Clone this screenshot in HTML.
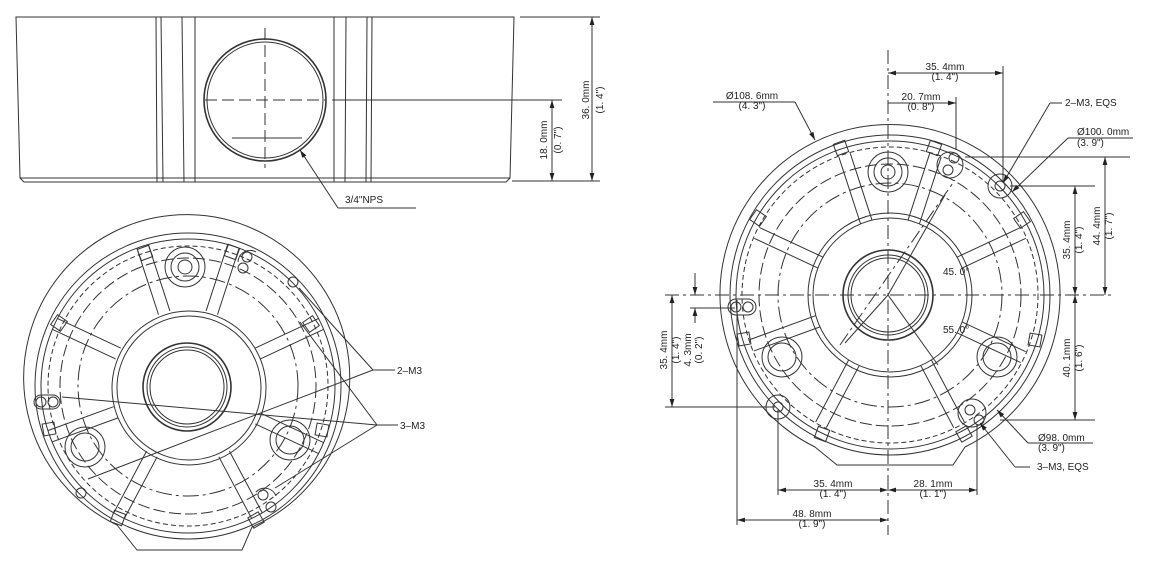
<!DOCTYPE html>
<html><head><meta charset="utf-8"><style>
html,body{margin:0;padding:0;background:#fff;}
svg{display:block}
text{font-family:"Liberation Sans",sans-serif;font-size:10px;fill:#222}
</style></head><body>
<svg width="1162" height="566" viewBox="0 0 1162 566" xmlns="http://www.w3.org/2000/svg">
<defs>
<marker id="a" viewBox="0 0 10 6" refX="10" refY="3" markerWidth="8" markerHeight="5" orient="auto-start-reverse"><path d="M0,0L10,3L0,6z" fill="#222"/></marker>
</defs>
<g fill="none" stroke="#333" stroke-width="1">
<!-- TOP VIEW -->
<path d="M16,17 L514,17 L510,178 L506,182 L24,182 L20,178 Z"/>
<line x1="20" y1="178" x2="510" y2="178"/>
<line x1="156" y1="17" x2="157" y2="182"/><line x1="161" y1="17" x2="163" y2="182"/>
<line x1="182" y1="17" x2="184" y2="182"/><line x1="195" y1="17" x2="195" y2="182"/>
<line x1="334" y1="17" x2="334" y2="182"/><line x1="346" y1="17" x2="345" y2="182"/>
<line x1="367" y1="17" x2="366" y2="182"/><line x1="372" y1="17" x2="371" y2="182"/>
<ellipse cx="265" cy="100" rx="61" ry="61" stroke-width="1.6"/>
<ellipse cx="265" cy="100" rx="58" ry="58"/>
<line x1="232" y1="138" x2="302" y2="138"/>
<line x1="265" y1="28" x2="265" y2="168" stroke-dasharray="12,5"/>
<line x1="205" y1="100" x2="325" y2="100" stroke-dasharray="12,5"/>
<line x1="332" y1="100" x2="562" y2="100"/>
<line x1="520" y1="17" x2="600" y2="17"/>
<line x1="512" y1="181" x2="600" y2="181"/>
<line x1="552" y1="100" x2="552" y2="181" marker-start="url(#a)" marker-end="url(#a)"/>
<line x1="592" y1="17" x2="592" y2="181" marker-start="url(#a)" marker-end="url(#a)"/>
<line x1="338" y1="208" x2="300" y2="150" marker-end="url(#a)"/>
<line x1="338" y1="208" x2="416" y2="208"/>

<!-- BOTTOM-LEFT VIEW -->
<path d="M117,525 A163,163 0 1 1 252,527 L242,550 L137,550 Z"/>
<circle cx="188" cy="386" r="153"/>
<circle cx="188" cy="386" r="147"/>
<circle cx="188" cy="386" r="140" stroke-dasharray="5,3"/>
<circle cx="188" cy="386" r="128" stroke-dasharray="12,4"/>
<circle cx="188" cy="386" r="110" stroke-dasharray="16,4,3,4"/>
<circle cx="189" cy="388" r="77"/>
<circle cx="189" cy="388" r="72"/>
<circle cx="187" cy="387" r="44" stroke-width="1.6"/>
<circle cx="187" cy="387" r="40"/>
<circle cx="187" cy="387" r="37"/>
<g id="spokesL">
<g transform="rotate(-108 188 386)"><line x1="265" y1="380" x2="335" y2="380"/><line x1="265" y1="392" x2="335" y2="392"/></g>
<g transform="rotate(-72 188 386)"><line x1="265" y1="380" x2="335" y2="380"/><line x1="265" y1="392" x2="335" y2="392"/></g>
<g transform="rotate(-25 188 386)"><line x1="265" y1="380" x2="335" y2="380"/><line x1="265" y1="392" x2="335" y2="392"/></g>
<g transform="rotate(25 188 386)"><line x1="265" y1="380" x2="335" y2="380"/><line x1="265" y1="392" x2="335" y2="392"/></g>
<g transform="rotate(62 188 386)"><line x1="265" y1="380" x2="335" y2="380"/><line x1="265" y1="392" x2="335" y2="392"/></g>
<g transform="rotate(118 188 386)"><line x1="265" y1="380" x2="335" y2="380"/><line x1="265" y1="392" x2="335" y2="392"/></g>
<g transform="rotate(160 188 386)"><line x1="265" y1="380" x2="335" y2="380"/><line x1="265" y1="392" x2="335" y2="392"/></g>
<g transform="rotate(-155 188 386)"><line x1="265" y1="380" x2="335" y2="380"/><line x1="265" y1="392" x2="335" y2="392"/></g>
</g>
<g>
<rect x="139" y="247" width="12" height="12" transform="rotate(-20 145 253)"/>
<rect x="226" y="246" width="12" height="12" transform="rotate(20 232 252)"/>
<rect x="53" y="317" width="12" height="12" transform="rotate(-55 59 323)"/>
<rect x="305" y="318" width="12" height="12" transform="rotate(55 311 324)"/>
<rect x="43" y="423" width="12" height="12" transform="rotate(-100 49 429)"/>
<rect x="316" y="424" width="12" height="12" transform="rotate(100 322 430)"/>
<rect x="112" y="512" width="12" height="12" transform="rotate(20 118 518)"/>
<rect x="250" y="514" width="12" height="12" transform="rotate(-30 256 520)"/>
</g>
<circle cx="185" cy="267" r="20"/><circle cx="185" cy="267" r="14"/><circle cx="185" cy="267" r="7"/>
<circle cx="85" cy="447" r="20"/><circle cx="85" cy="447" r="14"/>
<circle cx="290" cy="440" r="20"/><circle cx="290" cy="440" r="14"/>
<circle cx="247" cy="257" r="5"/><circle cx="243" cy="268" r="5"/><path d="M238,262 a12,12 0 0 1 18,-10"/>
<circle cx="41" cy="402" r="5"/><circle cx="53" cy="402" r="5"/><rect x="34" y="395" width="26" height="14" rx="7"/>
<circle cx="263" cy="495" r="5"/><circle cx="271" cy="507" r="5"/><path d="M256,492 a12,12 0 0 1 20,4"/>
<circle cx="293" cy="282" r="5"/><circle cx="81" cy="493" r="5"/>
<line x1="373" y1="370" x2="395" y2="370"/>
<line x1="373" y1="370" x2="299" y2="288"/>
<line x1="373" y1="370" x2="88" y2="479"/>
<line x1="377" y1="425" x2="398" y2="425"/>
<line x1="377" y1="425" x2="62" y2="397"/>
<line x1="377" y1="425" x2="300" y2="322"/>
<line x1="377" y1="425" x2="275" y2="488"/>

<!-- RIGHT VIEW -->
<path d="M815,447 A170,170 0 1 1 965,447 L953,465 L837,465 Z"/>
<circle cx="890" cy="295" r="160"/>
<circle cx="890" cy="295" r="154"/>
<circle cx="890" cy="295" r="148" stroke-dasharray="5,3"/>
<circle cx="890" cy="295" r="131" stroke-dasharray="12,4"/>
<circle cx="890" cy="295" r="112" stroke-dasharray="16,4,3,4"/>
<circle cx="890" cy="295" r="82"/>
<circle cx="890" cy="295" r="77"/>
<circle cx="888" cy="295" r="45" stroke-width="1.6"/>
<circle cx="888" cy="295" r="40"/>
<circle cx="888" cy="295" r="37"/>
<g transform="translate(702 -91)">
<use href="#spokesL"/>
</g>
<rect x="835" y="142" width="12" height="12" transform="rotate(-20 841 148)"/>
<rect x="928" y="142" width="12" height="12" transform="rotate(20 934 148)"/>
<rect x="752" y="212" width="12" height="12" transform="rotate(-55 758 218)"/>
<rect x="1016" y="214" width="12" height="12" transform="rotate(55 1022 220)"/>
<rect x="738" y="333" width="12" height="12" transform="rotate(-100 744 339)"/>
<rect x="1029" y="334" width="12" height="12" transform="rotate(100 1035 340)"/>
<rect x="816" y="428" width="12" height="12" transform="rotate(20 822 434)"/>
<rect x="958" y="428" width="12" height="12" transform="rotate(-30 964 434)"/>
<circle cx="888" cy="172" r="20"/><circle cx="888" cy="172" r="14"/><circle cx="888" cy="172" r="7"/>
<circle cx="782" cy="357" r="20"/><circle cx="782" cy="357" r="14"/>
<circle cx="997" cy="357" r="20"/><circle cx="997" cy="357" r="14"/>
<circle cx="954" cy="158" r="5"/><circle cx="948" cy="170" r="5"/><circle cx="950" cy="165" r="13"/>
<circle cx="1000" cy="186" r="5"/><circle cx="1000" cy="186" r="12"/>
<circle cx="736" cy="307" r="5"/><circle cx="748" cy="307" r="5"/><rect x="728" y="299" width="28" height="16" rx="8"/>
<circle cx="778" cy="407" r="5"/><circle cx="778" cy="407" r="12"/>
<circle cx="970" cy="410" r="5"/><circle cx="979" cy="420" r="5"/><circle cx="972" cy="413" r="14"/>
<g stroke-dasharray="14,4,3,4">
<line x1="888" y1="50" x2="888" y2="535"/>
<line x1="665" y1="295" x2="1115" y2="295"/>
<line x1="840" y1="345" x2="955" y2="180"/>
</g>
<line x1="888" y1="295" x2="845" y2="343"/>
<line x1="888" y1="295" x2="945" y2="195"/>
<line x1="888" y1="295" x2="938" y2="365"/>
<line x1="888" y1="73" x2="1003" y2="73" marker-start="url(#a)" marker-end="url(#a)"/>
<line x1="888" y1="103" x2="956" y2="103" marker-end="url(#a)"/>
<line x1="1003" y1="66" x2="1003" y2="183"/>
<line x1="956" y1="97" x2="956" y2="150"/>
<line x1="713" y1="102" x2="795" y2="102"/><line x1="795" y1="102" x2="815" y2="140" marker-end="url(#a)"/>
<line x1="1050" y1="103" x2="1062" y2="103"/><line x1="1050" y1="103" x2="1003" y2="183" marker-end="url(#a)"/>
<line x1="1068" y1="138" x2="1133" y2="138"/><line x1="1068" y1="138" x2="1012" y2="192" marker-end="url(#a)"/>
<line x1="965" y1="157" x2="1130" y2="157"/>
<line x1="1010" y1="186" x2="1095" y2="186"/>
<line x1="1000" y1="420" x2="1095" y2="420"/>
<line x1="1105" y1="157" x2="1105" y2="295" marker-start="url(#a)" marker-end="url(#a)"/>
<line x1="1075" y1="186" x2="1075" y2="295" marker-start="url(#a)" marker-end="url(#a)"/>
<line x1="1075" y1="295" x2="1075" y2="420" marker-start="url(#a)" marker-end="url(#a)"/>
<line x1="672" y1="295" x2="672" y2="407" marker-start="url(#a)" marker-end="url(#a)"/>
<line x1="665" y1="407" x2="775" y2="407"/>
<line x1="695" y1="273" x2="695" y2="295" marker-end="url(#a)"/>
<line x1="695" y1="323" x2="695" y2="308" marker-end="url(#a)"/>
<line x1="690" y1="308" x2="735" y2="308"/>
<line x1="778" y1="490" x2="888" y2="490" marker-start="url(#a)" marker-end="url(#a)"/>
<line x1="888" y1="490" x2="977" y2="490" marker-start="url(#a)" marker-end="url(#a)"/>
<line x1="737" y1="520" x2="888" y2="520" marker-start="url(#a)" marker-end="url(#a)"/>
<line x1="778" y1="410" x2="778" y2="495"/>
<line x1="977" y1="425" x2="977" y2="495"/>
<line x1="737" y1="300" x2="737" y2="525"/>
<line x1="1028" y1="443" x2="1093" y2="443"/><line x1="1028" y1="443" x2="997" y2="410" marker-end="url(#a)"/>
<line x1="1015" y1="467" x2="1030" y2="467"/><line x1="1015" y1="467" x2="980" y2="423" marker-end="url(#a)"/>
</g>
<text x="345" y="203" font-size="11">3/4"NPS</text>
<text transform="translate(547 140) rotate(-90)" text-anchor="middle" font-size="11">18. 0mm</text>
<text transform="translate(561 140) rotate(-90)" text-anchor="middle" font-size="11">(0. 7")</text>
<text transform="translate(589 100) rotate(-90)" text-anchor="middle" font-size="11">36. 0mm</text>
<text transform="translate(603 100) rotate(-90)" text-anchor="middle" font-size="11">(1. 4")</text>
<text x="397" y="374" font-size="9">2–M3</text>
<text x="400" y="429" font-size="9">3–M3</text>
<g font-size="9">
<text x="945" y="70" text-anchor="middle">35. 4mm</text><text x="945" y="80" text-anchor="middle">(1. 4")</text>
<text x="921" y="100" text-anchor="middle">20. 7mm</text><text x="921" y="110" text-anchor="middle">(0. 8")</text>
<text x="752" y="99" text-anchor="middle">Ø108. 6mm</text><text x="752" y="109" text-anchor="middle">(4. 3")</text>
<text x="1065" y="106">2–M3, EQS</text>
<text x="1077" y="135">Ø100. 0mm</text><text x="1077" y="146">(3. 9")</text>
<text x="1038" y="441">Ø98. 0mm</text><text x="1038" y="451">(3. 9")</text>
<text x="1037" y="470">3–M3, EQS</text>
<text x="943" y="275" font-size="10">45. 0°</text>
<text x="943" y="333" font-size="10">55. 0°</text>
<text x="833" y="487" text-anchor="middle">35. 4mm</text><text x="833" y="497" text-anchor="middle">(1. 4")</text>
<text x="933" y="487" text-anchor="middle">28. 1mm</text><text x="933" y="497" text-anchor="middle">(1. 1")</text>
<text x="812" y="517" text-anchor="middle">48. 8mm</text><text x="812" y="527" text-anchor="middle">(1. 9")</text>
<text transform="translate(1100 226) rotate(-90)" text-anchor="middle">44. 4mm</text>
<text transform="translate(1112 226) rotate(-90)" text-anchor="middle">(1. 7")</text>
<text transform="translate(1070 240) rotate(-90)" text-anchor="middle">35. 4mm</text>
<text transform="translate(1082 240) rotate(-90)" text-anchor="middle">(1. 4")</text>
<text transform="translate(1070 358) rotate(-90)" text-anchor="middle">40. 1mm</text>
<text transform="translate(1082 358) rotate(-90)" text-anchor="middle">(1. 6")</text>
<text transform="translate(667 350) rotate(-90)" text-anchor="middle">35. 4mm</text>
<text transform="translate(679 350) rotate(-90)" text-anchor="middle">(1. 4")</text>
<text transform="translate(691 350) rotate(-90)" text-anchor="middle">4. 3mm</text>
<text transform="translate(702 350) rotate(-90)" text-anchor="middle">(0. 2")</text>
</g>
</svg>
</body></html>
